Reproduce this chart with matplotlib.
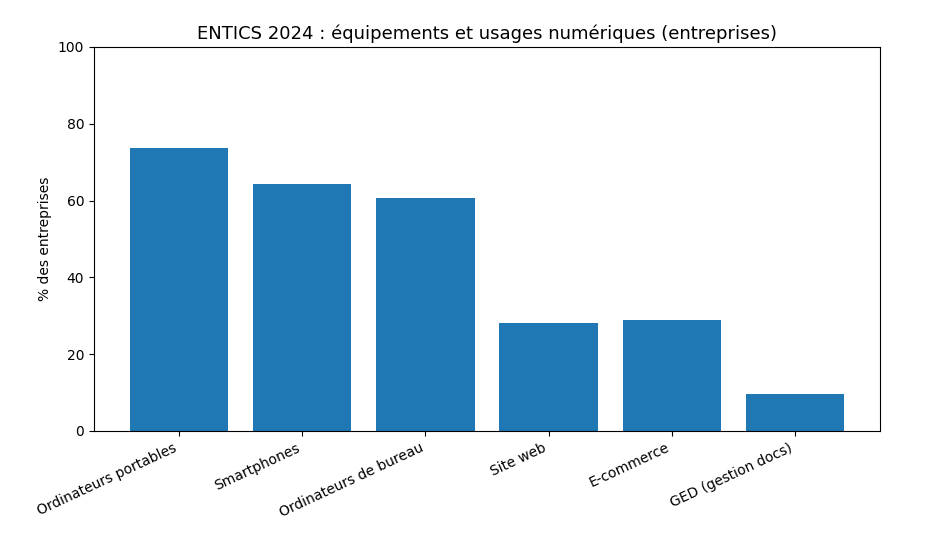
import matplotlib
matplotlib.use("Agg")
import matplotlib.pyplot as plt

categories = ["Ordinateurs portables", "Smartphones", "Ordinateurs de bureau", "Site web", "E-commerce", "GED (gestion docs)"]
values = [73.8, 64.2, 60.8, 28.2, 28.9, 9.6]

fig = plt.figure(figsize=(9.35, 5.43), dpi=100)
ax = fig.add_axes([94/935, 1-431/543, (880-94)/935, (431-47)/543])
ax.bar(categories, values, color="#1f77b4")
ax.set_ylim(0, 100)
ax.set_ylabel("% des entreprises")
ax.set_title("ENTICS 2024 : équipements et usages numériques (entreprises)", fontsize=13)
plt.setp(ax.get_xticklabels(), rotation=25, ha="right")
fig.savefig("out.png", dpi=100)
